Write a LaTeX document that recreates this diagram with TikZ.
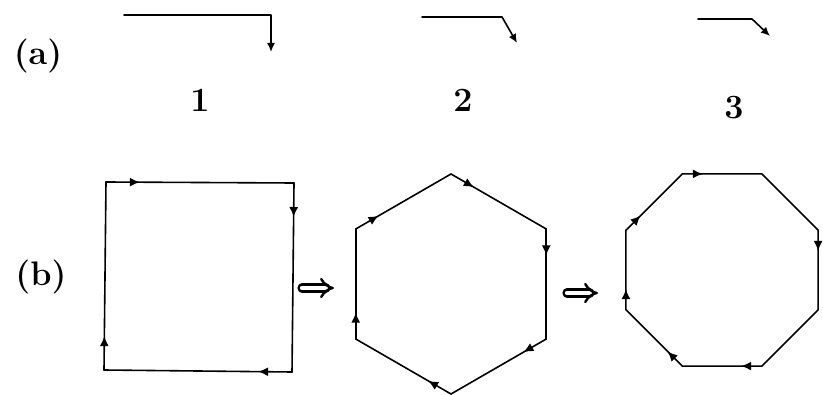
\documentclass[tikz,border=0pt]{standalone}
\usepackage{tikz}
\usetikzlibrary{arrows.meta, decorations.markings, calc}
\tikzset{
  every picture/.style={line width=0.8pt, line cap=round, line join=round},
  etiq/.style={font=\fontsize{17}{20}\selectfont\bfseries, inner sep=0pt},
  tramo/.style={draw, postaction={decorate}, decoration={markings,
                mark=at position #1 with {\arrow{Latex[length=5pt,width=4.5pt]}}}},
  tramo/.default=0.22,
  marca/.style={postaction={decorate}, decoration={markings,
                mark=at position #1 with {\arrow{Latex[length=5pt,width=4.5pt]}}}},
  marca/.default=0.24,
  paso/.style={-{Latex[length=4.5pt,width=4pt]}},
  implica/.style={double, double distance=2.2pt, line width=1.2pt, -{Implies}},
}
\begin{document}
\begin{tikzpicture}[x=0.5pt, y=-0.5pt]
  \useasboundingbox (0,0) rectangle (823,395);
  % (a) etiquetas
  \node[etiq] (la) at (38,56) {(a)};
  \node[etiq] (n1) at (200,100) {1};
  \node[etiq] (n2) at (463,100) {2};
  \node[etiq] (n3) at (734,108) {3};
  % (a) tramos
  \coordinate (a1) at (124,15);  \coordinate (a1c) at (271,15);  \coordinate (a1e) at (271,52);
  \coordinate (a2) at (422,17);  \coordinate (a2c) at (502,17);  \coordinate (a2e) at (517,43);
  \coordinate (a3) at (698,19);  \coordinate (a3c) at (752,19);  \coordinate (a3e) at (770,36);
  \foreach \n in {1,2,3} \draw[paso] (a\n) -- (a\n c) -- (a\n e);
  % (b)
  \node[etiq] (lb) at (41,277) {(b)};
  % cuadrado
  \coordinate (s1) at (106,182); \coordinate (s2) at (294,183);
  \coordinate (s3) at (292,372); \coordinate (s4) at (104,370);
  \foreach \a/\b in {s1/s2,s2/s3,s3/s4,s4/s1} \draw[tramo=0.18] (\a) -- (\b);
  % hexagono
  \coordinate (hc) at (451,284);
  \foreach \i in {0,...,5} \coordinate (h\i) at ($(hc)+({210+60*\i}:110)$);
  \foreach \a/\b in {h0/h1,h1/h2,h2/h3,h3/h4,h4/h5,h5/h0} \draw[tramo=0.24] (\a) -- (\b);
  % octogono
  \coordinate (oc) at (722,270);
  \foreach \i in {0,...,7} \coordinate (o\i) at ($(oc)+({202.5+45*\i}:104)$);
  \draw (o0) -- (o1) -- (o2) -- (o3) -- (o4) -- (o5) -- (o6) -- (o7) -- cycle;
  \foreach \a/\b in {o0/o1,o1/o2,o3/o4,o5/o6,o6/o7,o7/o0} \path[marca=0.26] (\a) -- (\b);
  % flechas dobles
  \coordinate (i1a) at (302,288); \coordinate (i1b) at (334,288);
  \coordinate (i2a) at (567,293); \coordinate (i2b) at (598,293);
  \draw[implica] (i1a) -- (i1b);
  \draw[implica] (i2a) -- (i2b);
\end{tikzpicture}
\end{document}
